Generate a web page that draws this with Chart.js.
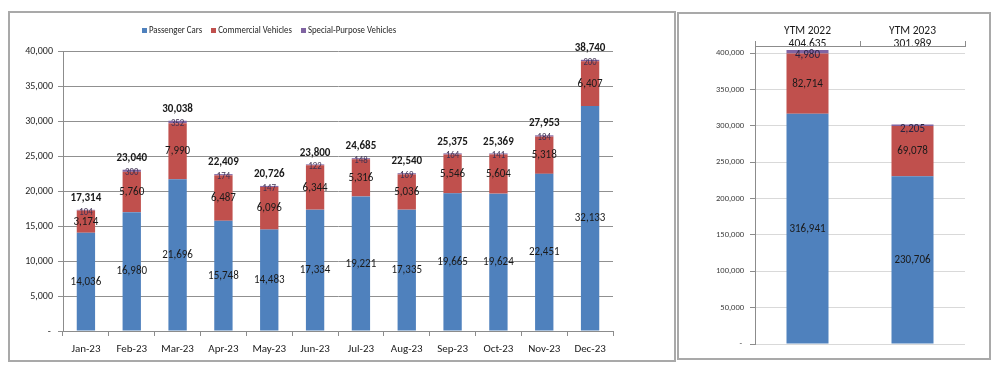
<!DOCTYPE html>
<html><head><meta charset="utf-8">
<script src="https://cdn.jsdelivr.net/npm/chart.js@4.4.1/dist/chart.umd.min.js"></script>
<style>
html,body{margin:0;padding:0;background:#fff;width:1000px;height:366px;overflow:hidden;position:relative;}
.frame{position:absolute;border:2px solid #a9a9a9;box-sizing:border-box;}
.cv{position:absolute;}
</style></head><body>
<div class="frame" style="left:8px;top:11px;width:668px;height:351px"></div>
<div class="frame" style="left:677px;top:12px;width:314px;height:348px"></div>
<div class="cv" style="left:10px;top:13px;"><canvas id="c1" width="664" height="347"></canvas></div>
<div class="cv" style="left:679px;top:14px;"><canvas id="c2" width="310" height="344"></canvas></div>
<script>
// ---- data ----
const seriesNames = ['Passenger Cars', 'Commercial Vehicles', 'Special-Purpose Vehicles'];
const months = ['Jan-23','Feb-23','Mar-23','Apr-23','May-23','Jun-23','Jul-23','Aug-23','Sep-23','Oct-23','Nov-23','Dec-23'];
const passengerCars = [14036, 16980, 21696, 15748, 14483, 17334, 19221, 17335, 19665, 19624, 22451, 32133];
const commercialVehicles = [3174, 5760, 7990, 6487, 6096, 6344, 5316, 5036, 5546, 5604, 5318, 6407];
const specialPurpose = [104, 300, 352, 174, 147, 122, 148, 169, 164, 141, 184, 200];
const monthTotals = [17314, 23040, 30038, 22409, 20726, 23800, 24685, 22540, 25375, 25369, 27953, 38740];
const monthTicks = [0, 5000, 10000, 15000, 20000, 25000, 30000, 35000, 40000];

const ytmLabels = ['YTM 2022', 'YTM 2023'];
const ytmTotals = [404635, 301989];
const ytmPassenger = [316941, 230706];
const ytmCommercial = [82714, 69078];
const ytmSpecial = [4980, 2205];
const ytmTicks = [0, 50000, 100000, 150000, 200000, 250000, 300000, 350000, 400000];
const ytmAxisMax = 410000;

// ---- styling ----
const FF = "Carlito, Calibri, 'Liberation Sans', sans-serif";
const COLORS = ['#4f81bd', '#c0504d', '#8064a2'];
const fmt = v => v.toLocaleString('en-US');
const tickFmt = v => v === 0 ? '- ' : fmt(v);
const setTicks = arr => scale => { scale.ticks = arr.map(v => ({value: v})); };

// draw text slightly condensed horizontally (the reference text is narrow)
function squeezeText(ctx, text, x, y, sx) {
  ctx.save();
  ctx.translate(x, y);
  ctx.scale(sx, 1);
  ctx.fillText(text, 0, 0);
  ctx.restore();
}

const barLabels = {
  id: 'barLabels',
  afterDatasetsDraw(chart, args, opts) {
    const ctx = chart.ctx;
    const sx = opts.squeeze || 1;
    ctx.save();
    ctx.textAlign = 'center';
    ctx.textBaseline = 'middle';
    chart.data.datasets.forEach((ds, i) => {
      const meta = chart.getDatasetMeta(i);
      const st = opts.styles[i];
      ctx.font = st.font;
      ctx.fillStyle = st.color;
      meta.data.forEach((bar, j) => {
        const y = (bar.y + bar.base) / 2 + st.dy;
        squeezeText(ctx, fmt(ds.data[j]), bar.x, y, sx);
      });
    });
    if (opts.totals) {
      const last = chart.getDatasetMeta(chart.data.datasets.length - 1);
      ctx.font = opts.totalFont;
      ctx.fillStyle = opts.totalColor;
      last.data.forEach((bar, j) => squeezeText(ctx, fmt(opts.totals[j]), bar.x, bar.y - opts.totalGap, sx));
    }
    ctx.restore();
  }
};

const customLegend = {
  id: 'customLegend',
  afterDraw(chart, args, opts) {
    if (!opts || !opts.show) return;
    const ctx = chart.ctx;
    const sx = opts.squeeze || 1;
    ctx.save();
    ctx.font = opts.font;
    ctx.textBaseline = 'middle';
    ctx.textAlign = 'left';
    const items = chart.data.datasets.map(d => ({text: d.label, color: d.backgroundColor}));
    const widths = items.map(it => opts.box + opts.gap + ctx.measureText(it.text).width * sx);
    const total = widths.reduce((a, b) => a + b, 0) + opts.spacing * (items.length - 1);
    let x = opts.cx - total / 2;
    items.forEach((it, i) => {
      ctx.fillStyle = it.color;
      ctx.fillRect(Math.round(x), Math.round(opts.cy - opts.box / 2), opts.box, opts.box);
      ctx.fillStyle = opts.color;
      squeezeText(ctx, it.text, x + opts.box + opts.gap, opts.cy, sx);
      x += widths[i] + opts.spacing;
    });
    ctx.restore();
  }
};

Chart.defaults.font.family = FF;
Chart.defaults.color = '#262626';

// ---- monthly chart ----
new Chart(document.getElementById('c1'), {
  type: 'bar',
  data: {
    labels: months,
    datasets: [
      {label: seriesNames[0], data: passengerCars, backgroundColor: COLORS[0]},
      {label: seriesNames[1], data: commercialVehicles, backgroundColor: COLORS[1]},
      {label: seriesNames[2], data: specialPurpose, backgroundColor: COLORS[2]}
    ]
  },
  options: {
    responsive: false,
    devicePixelRatio: 1,
    animation: false,
    categoryPercentage: 1,
    barPercentage: 0.4,
    layout: {padding: {top: 38, right: 61, left: 0, bottom: 0}},
    plugins: {
      legend: {display: false},
      tooltip: {enabled: false},
      customLegend: {show: true, cx: 259, cy: 17, box: 5, gap: 2, spacing: 9, font: "10px " + FF, color: '#262626', squeeze: 0.88},
      barLabels: {
        squeeze: 0.88,
        styles: [
          {font: "12.5px " + FF, color: '#1a1a1a', dy: 0},
          {font: "12.5px " + FF, color: '#1a1a1a', dy: 0},
          {font: "10px " + FF, color: '#3f3151', dy: 2}
        ],
        totals: monthTotals, totalFont: "bold 12.5px " + FF, totalColor: '#1a1a1a', totalGap: 12
      }
    },
    scales: {
      x: {
        stacked: true,
        grid: {display: true, drawOnChartArea: false, drawTicks: true, tickLength: 5, color: '#8c8c8c', offset: true},
        border: {display: true, color: '#8c8c8c'},
        ticks: {font: {size: 11}, color: '#1a1a1a', padding: 7, maxRotation: 0, autoSkip: false},
        afterFit: s => { s.height = 29; }
      },
      y: {
        stacked: true, min: monthTicks[0], max: monthTicks[monthTicks.length - 1],
        grid: {color: '#909090', tickLength: 5, drawTicks: true},
        border: {display: true, color: '#8c8c8c'},
        ticks: {font: {size: 10}, color: '#262626', padding: 5, callback: tickFmt},
        afterBuildTicks: setTicks(monthTicks),
        afterFit: s => { s.width = 53; }
      }
    }
  },
  plugins: [barLabels, customLegend]
});

// ---- YTM chart ----
new Chart(document.getElementById('c2'), {
  type: 'bar',
  data: {
    labels: ytmLabels.map((l, i) => [l, fmt(ytmTotals[i])]),
    datasets: [
      {label: seriesNames[0], data: ytmPassenger, backgroundColor: COLORS[0]},
      {label: seriesNames[1], data: ytmCommercial, backgroundColor: COLORS[1]},
      {label: seriesNames[2], data: ytmSpecial, backgroundColor: COLORS[2]}
    ]
  },
  options: {
    responsive: false,
    devicePixelRatio: 1,
    animation: false,
    categoryPercentage: 1,
    barPercentage: 0.4,
    layout: {padding: {top: 0, right: 24, left: 0, bottom: 14}},
    plugins: {
      legend: {display: false},
      tooltip: {enabled: false},
      barLabels: {
        squeeze: 0.88,
        styles: [
          {font: "12.5px " + FF, color: '#1a1a1a', dy: 0},
          {font: "12.5px " + FF, color: '#1a1a1a', dy: 0},
          {font: "12.5px " + FF, color: '#2a2340', dy: 3.5}
        ]
      }
    },
    scales: {
      x: {
        position: 'top',
        stacked: true,
        grid: {display: true, drawOnChartArea: false, drawTicks: true, tickLength: 5, color: '#8c8c8c', offset: true},
        border: {display: true, color: '#8c8c8c'},
        ticks: {font: {size: 11.5, lineHeight: 1.07}, color: '#1a1a1a', padding: -9, maxRotation: 0, autoSkip: false},
        afterFit: s => { s.height = 32; }
      },
      y: {
        stacked: true, min: 0, max: ytmAxisMax,
        grid: {color: '#d9d9d9', tickLength: 5, drawTicks: true, tickColor: '#8c8c8c'},
        border: {display: true, color: '#8c8c8c'},
        ticks: {font: {size: 8.5}, color: '#404040', padding: 6, callback: tickFmt},
        afterBuildTicks: setTicks(ytmTicks),
        afterFit: s => { s.width = 76; }
      }
    }
  },
  plugins: [barLabels]
});
</script>
</body></html>
